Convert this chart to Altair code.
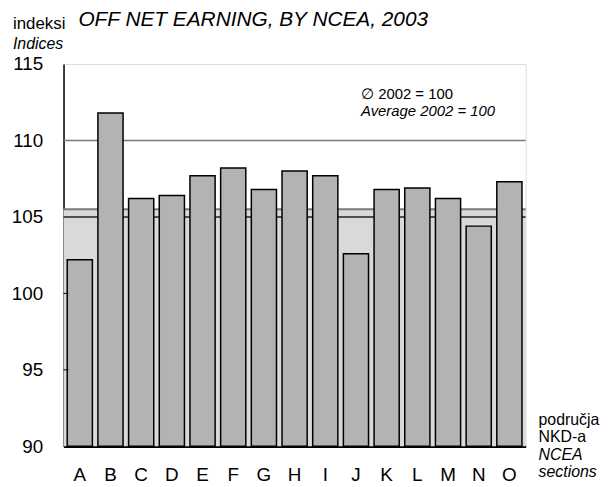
import altair as alt
import pandas as pd

# ---- data ----
sections = ["A", "B", "C", "D", "E", "F", "G", "H", "I", "J", "K", "L", "M", "N", "O"]
indices = [102.2, 111.8, 106.2, 106.4, 107.7, 108.2, 106.8, 108.0, 107.7, 102.6, 106.8, 106.9, 106.2, 104.4, 107.3]
y_ticks = [90, 95, 100, 105, 110, 115]
grid_110 = [110]
avg_2003 = [105.5]
line_105 = [105]
band_low = [90]
band_high = [105.5]

title_text = "OFF NET EARNING, BY NCEA, 2003"
ylab_hr = "indeksi"
ylab_en = "Indices"
note_hr = "\u2205 2002 = 100"
note_en = "Average 2002 = 100"
xlab_lines = ["područja", "NKD-a", "NCEA", "sections"]

FONT = "Liberation Sans"
W, H = 466, 385.5
X0, Y0 = 64, 62.5

df = pd.DataFrame({"section": sections, "index": indices})

yscale = alt.Scale(domain=[90, 115], nice=False, zero=False)
xscale = alt.Scale(paddingInner=0.18, paddingOuter=0.12)

band = alt.Chart(pd.DataFrame({"lo": band_low, "hi": band_high})).mark_rect(
    color="#d9d9d9"
).encode(
    y=alt.Y("lo:Q", scale=yscale),
    y2="hi:Q",
    x=alt.value(0),
    x2=alt.value(W),
)

r110 = alt.Chart(pd.DataFrame({"v": grid_110})).mark_rule(color="#7a7a7a", strokeWidth=1.5).encode(
    y=alt.Y("v:Q", scale=yscale), x=alt.value(0), x2=alt.value(W))
r1055 = alt.Chart(pd.DataFrame({"v": avg_2003})).mark_rule(color="#7a7a7a", strokeWidth=2).encode(
    y=alt.Y("v:Q", scale=yscale), x=alt.value(0), x2=alt.value(W))
r105 = alt.Chart(pd.DataFrame({"v": line_105})).mark_rule(color="#222222", strokeWidth=1.5).encode(
    y=alt.Y("v:Q", scale=yscale), x=alt.value(0), x2=alt.value(W))

bars = alt.Chart(df).mark_bar(color="#b3b3b3", stroke="#000000", strokeWidth=1.5).encode(
    x=alt.X("section:N", sort=sections, scale=xscale,
            axis=alt.Axis(title=None, labelAngle=0, tickSize=0, labelPadding=19,
                          labelFontSize=19, labelFont=FONT, labelColor="black",
                          domainColor="black", domainWidth=2.5)),
    y=alt.Y("index:Q", scale=yscale,
            axis=alt.Axis(title=None, values=y_ticks, grid=False, tickSize=0,
                          labelPadding=21, labelFontSize=19, labelFont=FONT,
                          labelColor="black", domainColor="black", domainWidth=1.5)),
    y2=alt.datum(90),
)

ticks = alt.Chart(pd.DataFrame({"v": [95, 100]})).mark_rule(color="black", strokeWidth=1).encode(
    y=alt.Y("v:Q", scale=yscale), x=alt.value(0), x2=alt.value(5))

def label(text, x, y, size, italic=False, align="left"):
    return alt.Chart(alt.Data(values=[{"t": text}])).mark_text(
        font=FONT, fontSize=size, fontStyle="italic" if italic else "normal",
        align=align, baseline="middle", color="black"
    ).encode(x=alt.value(x - X0), y=alt.value(y - Y0), text="t:N")

texts = [
    label(title_text, 79, 18, 21, italic=True),
    label(ylab_hr, 13, 22, 17),
    label(ylab_en, 13, 42, 16, italic=True),
    label(note_hr, 364, 93, 15),
    label(note_en, 364, 110, 15, italic=True),
]
for i, t in enumerate(xlab_lines):
    texts.append(label(t, 543, 421 + 17.8 * i, 16, italic=(i >= 2)))

chart = alt.layer(band, r110, r1055, r105, bars, ticks, *texts).properties(
    width=W, height=H,
    autosize=alt.AutoSizeParams(type="none"),
    padding={"left": 56, "top": 54.5, "right": 78, "bottom": 36},
).configure_view(stroke="#7a7a7a", strokeWidth=1.5).configure(background="white")

chart.save("out.html", embed_options={"renderer": "svg", "actions": False})
